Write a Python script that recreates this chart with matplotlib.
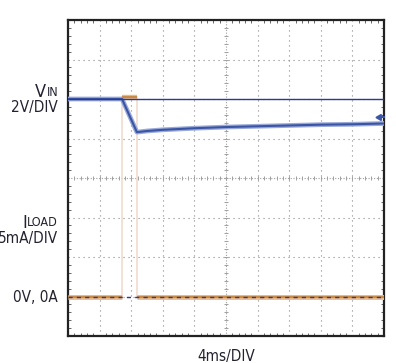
import numpy as np
import matplotlib
matplotlib.use("Agg")
import matplotlib.pyplot as plt

plt.rcParams['font.family'] = ['DejaVu Sans']
plt.rcParams['font.stretch'] = 'condensed'

# scope traces, in divisions (x: 0..10 time, y: -4..4)
vin_t = [0.0, 1.71, 2.18, 2.5, 3.0, 4.0, 5.0, 6.0, 7.0, 8.0, 9.0, 10.0]
vin_v = [2.0, 2.0, 1.16, 1.19, 1.22, 1.26, 1.29, 1.31, 1.33, 1.35, 1.36, 1.38]
iload_low_t = [[0.0, 1.71], [2.18, 10.0]]
iload_low_v = -3.0
iload_high_t = [1.71, 2.18]
iload_high_v = 2.05
vin_ref = 2.0
ground_ref = -3.0
marker_level = 1.55

BLUE = '#3b55a6'
BLUE_HALO = '#9aa9d6'
ORANGE = '#c98a45'
ORANGE_HALO = '#ebc194'
INK = '#222230'

fig = plt.figure(figsize=(3.96, 3.63), dpi=100)
ax = fig.add_axes([68 / 396, 1 - 336 / 363, 316 / 396, 316 / 363])
ax.set_xlim(0, 10)
ax.set_ylim(-4, 4)

# graticule
for x in range(1, 10):
    if x != 5:
        ax.axvline(x, color='#8a8a8a', lw=0.8, ls=(0, (1, 3.5)), zorder=1)
for y in range(-3, 4):
    if y != 0:
        ax.axhline(y, color='#8a8a8a', lw=0.8, ls=(0, (1, 3.5)), zorder=1)
ax.axvline(5, color='#a0a0a0', lw=0.8, ls=(0, (1, 1.5)), zorder=1)
ax.axhline(0, color='#a0a0a0', lw=0.8, ls=(0, (1, 1.5)), zorder=1)
minor_x = np.arange(0, 10.01, 0.2)
minor_y = np.arange(-4, 4.01, 0.2)
ax.plot(minor_x, np.zeros_like(minor_x), ls='none', marker='|', ms=3.5,
        mew=0.7, color='#a0a0a0', zorder=1)
ax.plot(np.full_like(minor_y, 5), minor_y, ls='none', marker='_', ms=3.5,
        mew=0.7, color='#a0a0a0', zorder=1)

ax.set_xticks(range(0, 11))
ax.set_yticks(range(-4, 5))
ax.set_xticks(minor_x, minor=True)
ax.set_yticks(minor_y, minor=True)
ax.tick_params(which='both', direction='in', top=True, right=True,
               labelbottom=False, labelleft=False, color='#666666')
ax.tick_params(which='major', length=0)
ax.tick_params(which='minor', length=2.5, width=0.7)
for s in ax.spines.values():
    s.set_linewidth(1.6)
    s.set_color('#222222')

# transition edges
for t in iload_high_t:
    ax.plot([t, t], [iload_low_v, iload_high_v], color='#f2dccd', lw=1.2, zorder=2)

# reference lines
ax.axhline(vin_ref, color='#2b3a96', lw=1.0, zorder=5)
ax.axhline(ground_ref, color='#2b3a96', lw=1.0, ls=(0, (3, 3)), zorder=5)

# ILOAD trace
for seg in iload_low_t:
    ax.plot(seg, [iload_low_v] * 2, color=ORANGE_HALO, lw=3.6,
            solid_capstyle='butt', zorder=3)
    ax.plot(seg, [iload_low_v] * 2, color=ORANGE, lw=1.6,
            solid_capstyle='butt', zorder=4)
ax.plot(iload_high_t, [iload_high_v] * 2, color=ORANGE_HALO, lw=3.2,
        solid_capstyle='butt', zorder=3)
ax.plot(iload_high_t, [iload_high_v] * 2, color=ORANGE, lw=1.6,
        solid_capstyle='butt', zorder=4)

# VIN trace
ax.plot(vin_t, vin_v, color=BLUE_HALO, lw=3.4, zorder=3)
ax.plot(vin_t, vin_v, color=BLUE, lw=1.5, zorder=4)

# channel marker
ax.plot([9.82, 10.0], [marker_level] * 2, color=BLUE, lw=1.5, zorder=6,
        clip_on=False)
ax.plot([9.85], [marker_level], marker=(3, 0, 90), ms=5, color=BLUE,
        zorder=6, clip_on=False)


def label(x, y, s, ha='right'):
    return fig.text(x / 396, 1 - y / 363, s, ha=ha, va='baseline',
                    fontsize=11, color=INK)


def sub_label(x, y, main, sub):
    t = fig.text(x / 396, 1 - y / 363, sub, ha='right', va='baseline',
                 fontsize=9, color=INK)
    ax.annotate(main, xy=(0, 0), xycoords=t, xytext=(0, 1.2),
                textcoords='offset points', ha='right', va='baseline',
                fontsize=13, color=INK, annotation_clip=False)


sub_label(58, 95.5, 'V', 'IN')
label(58, 111.5, '2V/DIV')
sub_label(58, 226.5, 'I', 'LOAD')
label(58, 242.5, '5mA/DIV')
label(58, 301.5, '0V, 0A')
label(226, 361, '4ms/DIV', ha='center')

fig.savefig('out.png', dpi=100)
